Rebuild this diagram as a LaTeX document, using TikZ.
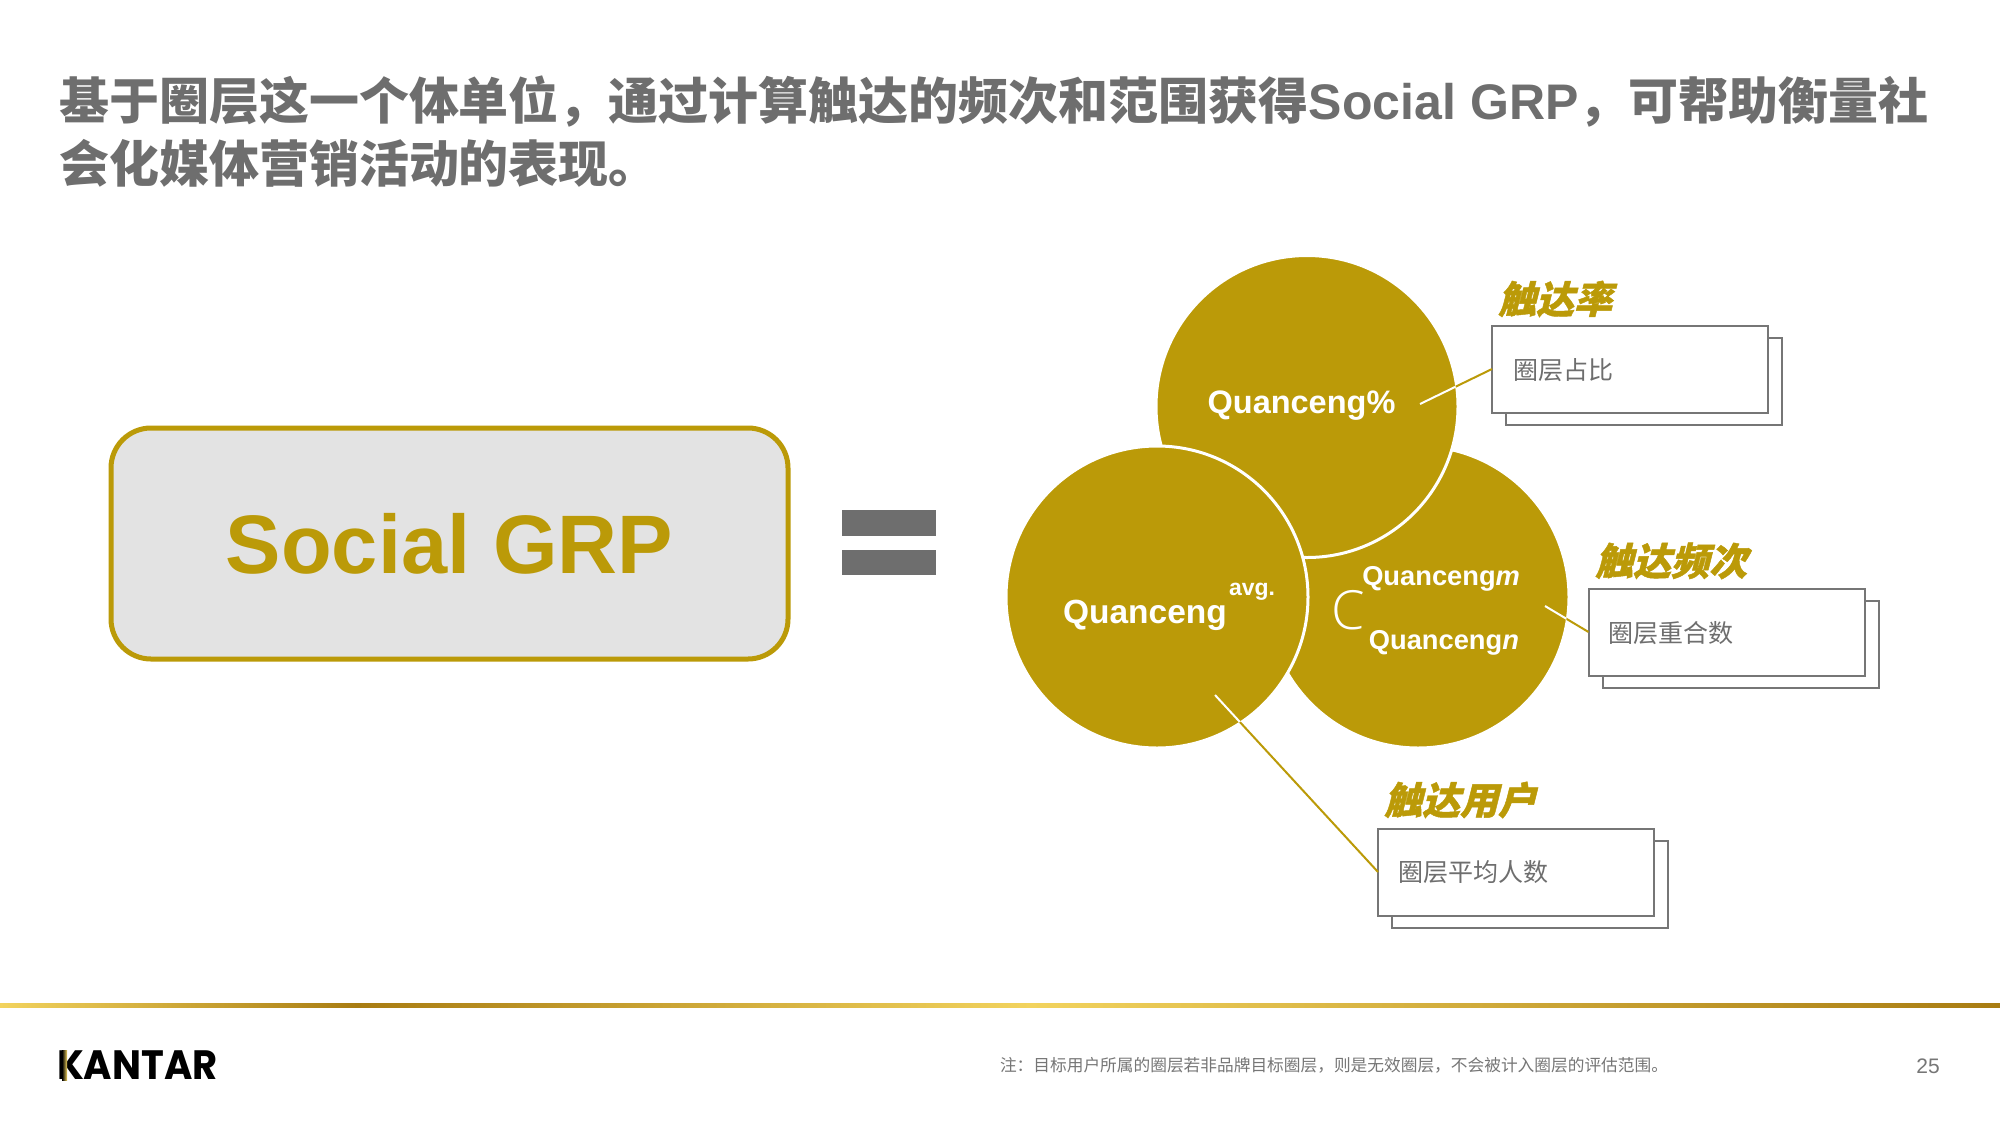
\documentclass[tikz,border=0pt]{standalone}
\usepackage{fontspec}
\setmainfont{Liberation Sans}
\newfontfamily\cjk{Noto Sans CJK SC}
\newfontfamily\cjkit[FakeSlant=0.25,FakeBold=1.2]{Noto Sans CJK SC}
\newfontfamily\logofont[FakeStretch=0.94]{Poppins}
\newfontfamily\cfont{Open Sans Light}
\usetikzlibrary{calc}
\definecolor{gold}{HTML}{BB9A08}
\definecolor{titlegray}{HTML}{6E6E6E}
\definecolor{boxgray}{HTML}{767676}
\definecolor{softgray}{HTML}{E3E3E3}
\definecolor{rulelight}{HTML}{F2D35E}
\definecolor{ruledark}{HTML}{A87C12}
\newcommand{\fs}[1]{\fontsize{#1pt}{#1pt}\selectfont}
\tikzset{
  x=1pt,y=-1pt,
  every node/.style={inner sep=0pt,outer sep=0pt},
  disc/.style={circle,fill=gold,draw=white,line width=3pt,minimum size=302pt},
  cardfront/.style={draw=boxgray,line width=2pt,fill=white,minimum width=276pt,minimum height=87pt},
  cardtext/.style={anchor=west,text=titlegray,font=\cjk\fs{25}},
  cardtitle/.style={anchor=west,text=gold,font=\cjkit\bfseries\fs{38}},
  disctext/.style={text=white,font=\bfseries},
  leader/.style={draw=gold,line width=2pt},
}
\begin{document}
\begin{tikzpicture}
\useasboundingbox (0,0) rectangle (2000,1125);
\fill[white] (0,0) rectangle (2000,1125);
% title
\node[anchor=west,text=titlegray,font=\bfseries\fs{50}] (t1) at (59,102) {{\cjk 基于圈层这一个体单位，通过计算触达的频次和范围获得}Social GRP{\cjk ，可帮助衡量社}};
\node[anchor=west,text=titlegray,font=\bfseries\fs{50}] (t2) at (59,163) {{\cjk 会化媒体营销活动的表现。}};
% main box
\node[draw=gold,line width=5pt,fill=softgray,rounded corners=40pt,minimum width=677pt,minimum height=231pt,text=gold,font=\bfseries\fs{83}] (grp) at (449.5,543.5) {Social GRP};
% equals
\fill[titlegray] (842,510) rectangle (936,536);
\fill[titlegray] (842,550) rectangle (936,575);
% circles
\node[disc] (cr) at (1418,597) {};
\node[disc] (ct) at (1307,406.5) {};
\node[disc] (cl) at (1157,597) {};
% cards
\node[cardfront,anchor=north west] (b1b) at (1506,337.5) {};
\node[cardfront,anchor=north west] (b1) at (1492,325.5) {};
\node[cardfront,anchor=north west] (b2b) at (1602.5,600.5) {};
\node[cardfront,anchor=north west] (b2) at (1588.5,588.5) {};
\node[cardfront,anchor=north west] (b3b) at (1392,840.5) {};
\node[cardfront,anchor=north west] (b3) at (1378,828.5) {};
% leaders
\coordinate (l1) at (1420,404);
\coordinate (l2) at (1545,606);
\coordinate (l3) at (1215,695);
\coordinate (e2) at (1588.5,632);
\draw[leader] (l1) -- (b1.west);
\draw[leader] (l2) -- (e2);
\draw[leader] (l3) -- (b3.west);
\begin{scope}
\clip (1418,597) circle (150);
\draw[white,line width=2pt] (l2) -- (e2);
\end{scope}
\begin{scope}
\clip (1307,406.5) circle (150);
\draw[white,line width=2pt] (l1) -- (b1.west);
\end{scope}
\begin{scope}
\clip (1157,597) circle (150);
\draw[white,line width=2pt] (l3) -- (b3.west);
\end{scope}
% texts
\node[disctext,font=\bfseries\fs{32.5}] (q1) at (1301.5,405.5) {Quanceng\%};
\node[disctext,anchor=west,font=\bfseries\fs{33.5}] (q2) at (1063,615) {Quanceng};
\node[disctext,anchor=west,font=\bfseries\fs{23}] (q3) at (1229,592) {avg.};
\node[disctext,anchor=east,font=\bfseries\fs{27.3}] (q4) at (1520,579) {Quanceng\textit{m}};
\node[disctext,anchor=east,font=\bfseries\fs{27.3}] (q5) at (1519,643) {Quanceng\textit{n}};
\node[text=white,font=\cfont\fs{54}] (q6) at (1348,610) {C};
\node[cardtitle] (h1) at (1498,299) {触达率};
\node[cardtitle] (h2) at (1595,561) {触达频次};
\node[cardtitle] (h3) at (1384,800) {触达用户};
\node[cardtext] (x1) at (1513,370) {圈层占比};
\node[cardtext] (x2) at (1608,633) {圈层重合数};
\node[cardtext] (x3) at (1398,872) {圈层平均人数};
% footer
\shade[left color=rulelight,right color=ruledark] (0,1003) rectangle (357,1007);
\shade[left color=ruledark,right color=rulelight] (357,1003) rectangle (1030,1007);
\shade[left color=rulelight,right color=ruledark] (1030,1003) rectangle (2000,1007);
\node[anchor=west,font=\logofont\bfseries\fs{41},text=black] (logo) at (57,1065) {KANTAR};
\shade[left color=black,right color=rulelight] (62,1050) rectangle (67,1080);
\node[anchor=west,text=boxgray,font=\cjk\fs{16.7}] (note) at (1000,1065) {注：目标用户所属的圈层若非品牌目标圈层，则是无效圈层，不会被计入圈层的评估范围。};
\node[text=boxgray,font=\fs{21}] (page) at (1928,1066) {25};
\end{tikzpicture}
\end{document}
